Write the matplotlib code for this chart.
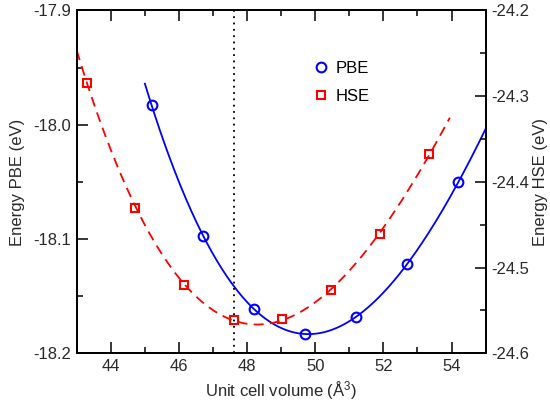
import numpy as np
import matplotlib
matplotlib.use("Agg")
import matplotlib.pyplot as plt
from matplotlib.ticker import MultipleLocator, FormatStrFormatter

plt.rcParams['font.family'] = ['Liberation Sans', 'DejaVu Sans']
plt.rcParams['mathtext.fontset'] = 'custom'
plt.rcParams['mathtext.rm'] = 'Liberation Sans'
plt.rcParams['mathtext.it'] = 'Liberation Sans'

# data
vol_pbe = [45.2, 46.7, 48.2, 49.7, 51.2, 52.7, 54.2]
e_pbe = [-17.983, -18.097, -18.161, -18.183, -18.168, -18.122, -18.050]

vol_hse = [43.31, 44.72, 46.16, 47.62, 49.03, 50.46, 51.89, 53.34]
e_hse = [-24.285, -24.430, -24.520, -24.561, -24.560, -24.526, -24.461, -24.368]

v_marker = 47.62

# fitted curves (cubic fit through the points)
fit_pbe = np.polyfit(vol_pbe, e_pbe, 3)
fit_hse = np.polyfit(vol_hse, e_hse, 3)
x_pbe = np.linspace(45.0, 55.0, 200)
x_hse = np.linspace(43.0, 53.95, 200)

fig = plt.figure(figsize=(5.5, 4.05), dpi=100)
ax1 = fig.add_axes([0.1395, 0.1277, 0.7435, 0.8464])
ax2 = ax1.twinx()

blue = '#0000ff'
red = '#ff0000'
txt = '#2a2a2a'

ax1.plot(x_pbe, np.polyval(fit_pbe, x_pbe), color=blue, lw=1.3)
p1, = ax1.plot(vol_pbe, e_pbe, 'o', mfc='none', mec=blue, mew=1.5, ms=7,
               label='PBE')
ax1.axvline(v_marker, color='black', ls=(0, (1, 2.5)), lw=1.3)

ax2.plot(x_hse, np.polyval(fit_hse, x_hse), color=red, lw=1.3,
         dashes=(5.5, 3.5))
p2, = ax2.plot(vol_hse, e_hse, 's', mfc='none', mec=red, mew=1.5, ms=5.5,
               label='HSE')

ax1.set_xlim(43, 55)
ax1.set_ylim(-18.2, -17.9)
ax2.set_ylim(-24.6, -24.2)

ax1.xaxis.set_major_locator(MultipleLocator(2))
ax1.xaxis.set_minor_locator(MultipleLocator(1))
ax1.yaxis.set_major_locator(MultipleLocator(0.1))
ax1.yaxis.set_minor_locator(MultipleLocator(0.05))
ax2.yaxis.set_major_locator(MultipleLocator(0.1))
ax2.yaxis.set_minor_locator(MultipleLocator(0.05))
ax1.yaxis.set_major_formatter(FormatStrFormatter('%.1f'))
ax2.yaxis.set_major_formatter(FormatStrFormatter('%.1f'))

ax1.tick_params(which='both', direction='in', top=True, right=False,
                labelsize=12, width=1.1, labelcolor=txt)
ax1.tick_params(which='major', length=8, pad=4)
ax1.tick_params(which='minor', length=4)
ax2.tick_params(which='both', direction='in', labelsize=12, width=1.1,
                labelcolor=txt)
ax2.tick_params(which='major', length=8, pad=4)
ax2.tick_params(which='minor', length=4)

for ax in (ax1, ax2):
    for s in ax.spines.values():
        s.set_linewidth(1.3)

ax1.set_xlabel('Unit cell volume (Å$^3$)', fontsize=12, color=txt)
ax1.set_ylabel('Energy PBE (eV)', fontsize=12, color=txt, labelpad=6)
ax2.set_ylabel('Energy HSE (eV)', fontsize=12, color=txt, labelpad=3)

ax1.legend(handles=[p1, p2], loc='center left', bbox_to_anchor=(0.54, 0.79),
           frameon=False, fontsize=12, handletextpad=0.4, labelspacing=0.75,
           handlelength=1.0)

fig.savefig('out.png', dpi=100)
